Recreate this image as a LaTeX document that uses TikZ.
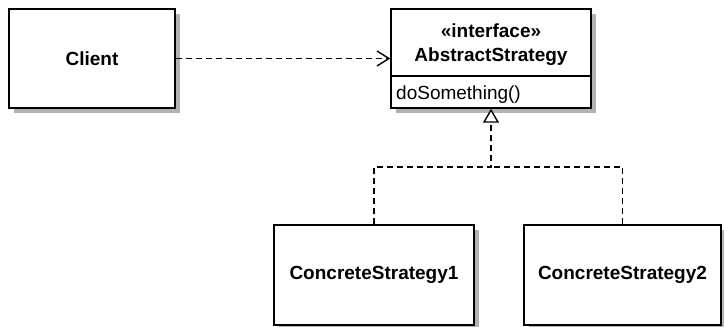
\documentclass[tikz,border=0pt]{standalone}
\usepackage{fontspec}
\setmainfont{Liberation Sans}
\usetikzlibrary{arrows.meta, positioning, shadows}

\begin{document}
\begin{tikzpicture}[x=1pt, y=-1pt, font=\fontsize{19}{23}\selectfont,
    cls/.style={draw, line width=1.4pt, fill=white, inner sep=0pt,
        drop shadow={shadow xshift=5pt, shadow yshift=-5pt, fill=black!30, opacity=1}},
    dep/.style={dash pattern=on 6pt off 4pt, line width=1.5pt},
    >={Straight Barb[length=12pt, width=15pt, line width=1.4pt]}]
    \useasboundingbox (0,0) rectangle (724,327);
    \node[cls, minimum width=166pt, minimum height=99pt] (client) at (92,58.5) {\bfseries Client};
    \node[cls, minimum width=200pt, minimum height=99pt] (abs) at (491,58.5) {};
    \node (stereo) at (491,31) {\bfseries «interface»};
    \node (absname) at (491,57) {\bfseries AbstractStrategy};
    \node[anchor=west, inner sep=0pt] (op) at (396,95) {doSomething()};
    \draw[line width=1.4pt] (abs.west |- 0,76) -- (abs.east |- 0,76);
    \node[cls, minimum width=200pt, minimum height=100pt] (cs1) at (374,275) {\bfseries ConcreteStrategy1};
    \node[cls, minimum width=197pt, minimum height=100pt] (cs2) at (622.5,275) {\bfseries ConcreteStrategy2};
    \coordinate (join) at (491,167);
    \draw[dep, ->] (client) -- (abs);
    \draw[dep, -{Triangle[open, length=14pt, width=16pt, line width=1.4pt, fill=white]}] (cs1.north) |- (join) -- (abs.south);
    \draw[dep] (cs2.north) |- (join);
\end{tikzpicture}
\end{document}
